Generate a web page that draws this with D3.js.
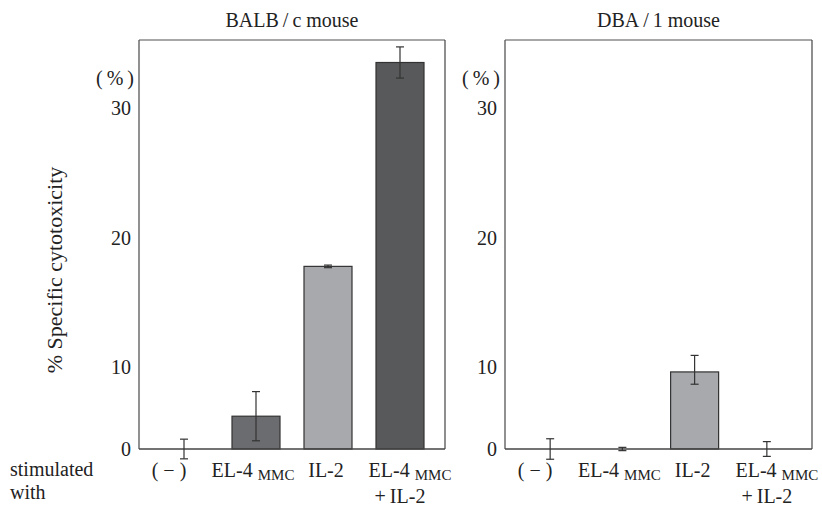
<!DOCTYPE html>
<html>
<head>
<meta charset="utf-8">
<script src="https://cdn.jsdelivr.net/npm/d3@7"></script>
<style>
  body { margin: 0; background: #fff; }
  text { font-family: "Liberation Serif", "Times New Roman", serif; fill: #222; }
</style>
</head>
<body>
<svg id="chart" width="822" height="506"></svg>
<script>
// categories along x, same for both panels
const categories = ["neg", "EL4", "IL2", "EL4IL2"];
const yTicks = [0, 10, 20, 30];

// BALB/c mouse
const balbValues = [0, 4.0, 17.8, 33.5];
const balbErrors = [1.2, 3.0, 0.1, 1.2];

// DBA/1 mouse
const dbaValues = [0, 0, 9.4, 0];
const dbaErrors = [1.25, 0.2, 1.5, 0.9];

const titles = ["BALB\u2009/\u2009c mouse", "DBA\u2009/\u20091 mouse"];

const svg = d3.select("#chart");

// the printed axis is not evenly spaced between 0 and 10
let y = d3.scaleLinear()
    .domain(yTicks)
    .range([449, 367, 238, 108]);

let color = d3.scaleOrdinal()
    .domain(categories)
    .range(["#fff", "#6b6c70", "#a8a9ad", "#58595b"]);

let panels = [
    {x0: 139, x1: 445, title: titles[0], values: balbValues, errors: balbErrors},
    {x0: 505, x1: 812, title: titles[1], values: dbaValues, errors: dbaErrors}
];

panels.forEach(function(p) {
    let x = d3.scalePoint()
        .domain(categories)
        .range([p.x0, p.x1])
        .padding(0.625);

    let g = svg.append("g");
    let top = 40, bottom = y(0);

    // title
    g.append("text")
        .attr("x", (p.x0 + p.x1) / 2)
        .attr("y", 27)
        .attr("text-anchor", "middle")
        .style("font-size", "20px")
        .text(p.title);

    // frame
    g.append("line").attr("x1", p.x0).attr("x2", p.x1).attr("y1", top).attr("y2", top)
        .attr("stroke", "#8a8a8a").attr("stroke-width", 1.5);
    g.append("line").attr("x1", p.x1).attr("x2", p.x1).attr("y1", top).attr("y2", bottom)
        .attr("stroke", "#444").attr("stroke-width", 1.2);
    g.append("line").attr("x1", p.x0).attr("x2", p.x0).attr("y1", top).attr("y2", bottom)
        .attr("stroke", "#555").attr("stroke-width", 1.3);

    // bars
    let data = categories.map((c, i) => ({cat: c, value: p.values[i], err: p.errors[i]}));
    let bw = 48;

    g.selectAll(".bar")
        .data(data.filter(d => d.value > 0))
        .enter().append("rect")
        .attr("class", "bar")
        .attr("x", d => x(d.cat) - bw / 2)
        .attr("y", d => y(d.value))
        .attr("width", bw)
        .attr("height", d => bottom - y(d.value))
        .attr("fill", d => color(d.cat))
        .attr("stroke", "#333")
        .attr("stroke-width", 1.2);

    g.append("line").attr("x1", p.x0).attr("x2", p.x1).attr("y1", bottom).attr("y2", bottom)
        .attr("stroke", "#444").attr("stroke-width", 1.3);

    // error bars
    let eb = g.selectAll(".err")
        .data(data)
        .enter().append("g")
        .attr("class", "err")
        .attr("stroke", "#333")
        .attr("stroke-width", 1.2);

    eb.append("line")
        .attr("x1", d => x(d.cat)).attr("x2", d => x(d.cat))
        .attr("y1", d => y(d.value + d.err)).attr("y2", d => y(d.value - d.err));
    eb.append("line")
        .attr("x1", d => x(d.cat) - 4).attr("x2", d => x(d.cat) + 4)
        .attr("y1", d => y(d.value + d.err)).attr("y2", d => y(d.value + d.err));
    eb.append("line")
        .attr("x1", d => x(d.cat) - 4).attr("x2", d => x(d.cat) + 4)
        .attr("y1", d => y(d.value - d.err)).attr("y2", d => y(d.value - d.err));

    // y tick labels, no tick marks
    g.selectAll(".ytick")
        .data(yTicks)
        .enter().append("text")
        .attr("class", "ytick")
        .attr("x", p.x0 - 8)
        .attr("y", d => y(d))
        .attr("dy", "0.35em")
        .attr("text-anchor", "end")
        .style("font-size", "20px")
        .text(d => d);

    g.append("text")
        .attr("x", p.x0 - 5)
        .attr("y", 78)
        .attr("dy", "0.35em")
        .attr("text-anchor", "end")
        .style("font-size", "20px")
        .text("(\u2009%\u2009)");

    // x category labels
    let lab = g.append("g").style("font-size", "20px");
    lab.append("text")
        .attr("x", x("neg") - 15).attr("y", 477)
        .attr("text-anchor", "middle")
        .text("( \u2212 )");

    [["EL4", -3], ["EL4IL2", 10]].forEach(function(a) {
        let t = lab.append("text")
            .attr("x", x(a[0]) + a[1]).attr("y", 477)
            .attr("text-anchor", "middle");
        t.append("tspan").text("EL-4 ");
        t.append("tspan").attr("dy", 3).style("font-size", "15px").text("MMC");
    });

    lab.append("text")
        .attr("x", x("IL2") - 2).attr("y", 477)
        .attr("text-anchor", "middle")
        .text("IL-2");

    lab.append("text")
        .attr("x", x("EL4IL2")).attr("y", 503)
        .attr("text-anchor", "middle")
        .text("+\u2009IL-2");
});

// left side texts
svg.append("text")
    .attr("transform", "translate(62,270) rotate(-90)")
    .attr("text-anchor", "middle")
    .style("font-size", "22px")
    .text("% Specific cytotoxicity");

svg.append("text")
    .attr("x", 10).attr("y", 476)
    .style("font-size", "20px")
    .text("stimulated");
svg.append("text")
    .attr("x", 10).attr("y", 499)
    .style("font-size", "20px")
    .text("with");
</script>
</body>
</html>
